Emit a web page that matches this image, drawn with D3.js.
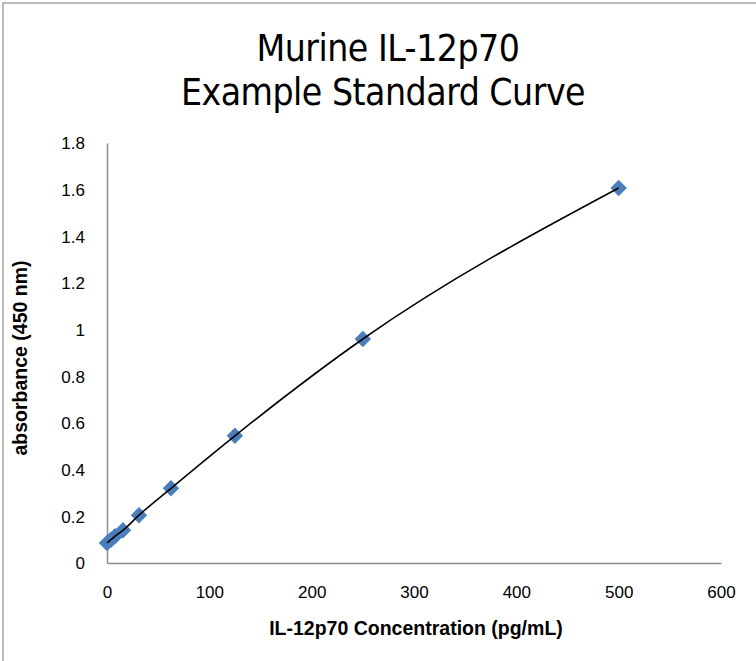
<!DOCTYPE html>
<html>
<head>
<meta charset="utf-8">
<script src="https://cdn.jsdelivr.net/npm/d3@7"></script>
<style>
  body { margin: 0; background: white; }
  svg { display: block; }
  .tick text { font-family: "Liberation Sans", Arial, sans-serif; font-size: 17px; fill: #000; }
</style>
</head>
<body>
<div id="grafico"></div>
<script>
// Datos de la curva estandar
const concentraciones = [0, 3.9, 7.8, 15.6, 31.25, 62.5, 125, 250, 500]
const absorbancias = [0.086, 0.1, 0.115, 0.14, 0.205, 0.32, 0.545, 0.96, 1.607]
const ticksX = [0, 100, 200, 300, 400, 500, 600]
const ticksY = [0, 0.2, 0.4, 0.6, 0.8, 1, 1.2, 1.4, 1.6, 1.8]

const anchoTotal = 756
const altoTotal = 661
const margins = { top: 143, right: 35, bottom: 98, left: 107 }
const ancho = anchoTotal - margins.left - margins.right
const alto = altoTotal - margins.top - margins.bottom

const svg = d3.select("#grafico")
  .append("svg")
  .attr("width", anchoTotal)
  .attr("height", altoTotal)

// Borde del area del grafico
svg.append("rect")
  .attr("x", 3).attr("y", 3)
  .attr("width", 800).attr("height", 700)
  .attr("fill", "white")
  .attr("stroke", "#a6a6a6")
  .attr("stroke-width", 1.5)

const g = svg.append("g")
  .attr("transform", `translate(${margins.left}, ${margins.top})`)

const x = d3.scaleLinear().domain([0, 600]).range([0, ancho])
const y = d3.scaleLinear().domain([0, 1.8]).range([alto, 0])

// Ejes
const xAxis = d3.axisBottom(x).tickValues(ticksX).tickSize(0).tickPadding(23)
const yAxis = d3.axisLeft(y).tickValues(ticksY).tickSize(0).tickPadding(22)
  .tickFormat((d) => d3.format("~g")(d))

const xg = g.append("g").attr("transform", `translate(0, ${alto})`).call(xAxis)
const yg = g.append("g").call(yAxis)
xg.select(".domain").attr("stroke", "#8c8c8c").attr("stroke-width", 1.5)
yg.select(".domain").attr("stroke", "#8c8c8c").attr("stroke-width", 1.5)
yg.selectAll(".tick text").attr("dy", "0.35em")

// Curva
const puntos = concentraciones.map((c, i) => [c, absorbancias[i]])
const linea = d3.line()
  .x((d) => x(d[0]))
  .y((d) => y(d[1]))
  .curve(d3.curveMonotoneX)

// Marcadores
g.selectAll("path.marca")
  .data(puntos)
  .enter()
  .append("path")
  .attr("class", "marca")
  .attr("d", d3.symbol(d3.symbolSquare, 135)())
  .attr("transform", (d) => `translate(${x(d[0])}, ${y(d[1])}) rotate(45)`)
  .attr("fill", "#4a7ebb")

g.append("path")
  .datum(puntos)
  .attr("d", linea)
  .attr("fill", "none")
  .attr("stroke", "#000")
  .attr("stroke-width", 1.6)

// Titulo
const titulo = svg.append("text")
  .attr("x", 390)
  .attr("text-anchor", "middle")
  .style("font-family", "'Liberation Sans Narrow', 'DejaVu Sans Condensed', sans-serif")
  .style("font-size", "37px")
  .style("letter-spacing", "-0.5px")
titulo.append("tspan").attr("x", 388).attr("y", 61).text("Murine IL-12p70")
titulo.append("tspan").attr("x", 383).attr("y", 105).text("Example Standard Curve")

// Etiquetas de ejes
svg.append("text")
  .attr("x", 416).attr("y", 635)
  .attr("text-anchor", "middle")
  .style("font-family", "'Liberation Sans', Arial, sans-serif")
  .style("font-size", "19.5px")
  .style("font-weight", "bold")
  .text("IL-12p70 Concentration (pg/mL)")

svg.append("text")
  .attr("transform", "translate(27, 358) rotate(-90)")
  .attr("text-anchor", "middle")
  .style("font-family", "'Liberation Sans', Arial, sans-serif")
  .style("font-size", "19.5px")
  .style("font-weight", "bold")
  .text("absorbance (450 nm)")
</script>
</body>
</html>
